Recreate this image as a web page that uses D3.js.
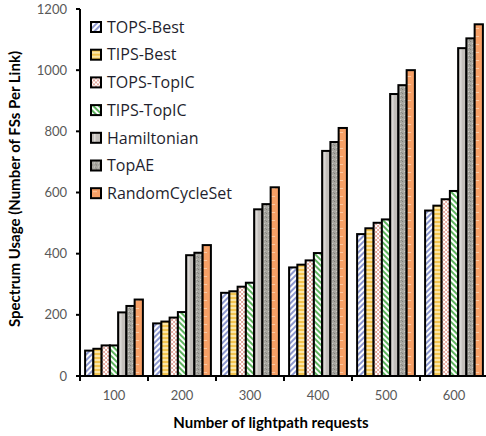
<!DOCTYPE html>
<html>
<head>
<meta charset="utf-8">
<script src="https://cdn.jsdelivr.net/npm/d3@7"></script>
<style>
  body { margin: 0; background: #fff; }
  text { font-family: Lato, "Open Sans", sans-serif; }
</style>
</head>
<body>
<div id="chart"></div>
<script>
const categories = ["100", "200", "300", "400", "500", "600"];
const seriesNames = ["TOPS-Best", "TIPS-Best", "TOPS-TopIC", "TIPS-TopIC", "Hamiltonian", "TopAE", "RandomCycleSet"];
const topsBest = [83, 172, 272, 355, 464, 541];
const tipsBest = [89, 178, 277, 364, 483, 557];
const topsTopIC = [100, 191, 292, 378, 501, 578];
const tipsTopIC = [100, 209, 305, 402, 512, 605];
const hamiltonian = [208, 395, 545, 736, 922, 1072];
const topAE = [229, 403, 562, 765, 951, 1104];
const randomCycleSet = [250, 428, 617, 811, 1000, 1150];
const yTicks = [0, 200, 400, 600, 800, 1000, 1200];

const allSeries = [topsBest, tipsBest, topsTopIC, tipsTopIC, hamiltonian, topAE, randomCycleSet];

let margin = { top: 9, left: 80 };

const svg = d3.select("#chart").append("svg")
    .attr("width", 486)
    .attr("height", 436);

// fill patterns
const defs = svg.append("defs");
function pat(id, bg, draw) {
  const p = defs.append("pattern").attr("id", id)
    .attr("patternUnits", "userSpaceOnUse").attr("width", 4).attr("height", 4);
  p.append("rect").attr("width", 4).attr("height", 4).attr("fill", bg);
  draw(p);
}
pat("p0", "#fff", p => {
  p.attr("patternTransform", "rotate(45)");
  p.append("rect").attr("width", 2).attr("height", 4).attr("fill", "#8d98cf");
});
pat("p1", "#fbe6a8", p => {
  p.append("rect").attr("width", 4).attr("height", 2).attr("fill", "#f3c44f");
});
pat("p2", "#fff", p => {
  p.append("rect").attr("width", 2).attr("height", 2).attr("fill", "#e4aaa0");
  p.append("rect").attr("x", 2).attr("y", 2).attr("width", 2).attr("height", 2).attr("fill", "#e4aaa0");
});
pat("p3", "#fff", p => {
  p.attr("patternTransform", "rotate(-45)");
  p.append("rect").attr("width", 2).attr("height", 4).attr("fill", "#5fb35f");
});
pat("p4", "#c3bfbb", p => {
  p.attr("width", 8).attr("height", 8);
  p.select("rect").attr("width", 8).attr("height", 8);
  p.append("rect").attr("x", 3).attr("width", 1.5).attr("height", 8).attr("fill", "#dedbd8");
});
pat("p5", "#a9a8a2", p => {
  p.append("rect").attr("x", 1).attr("y", 0).attr("width", 1).attr("height", 1).attr("fill", "#7c7b76");
  p.append("rect").attr("x", 3).attr("y", 2).attr("width", 1).attr("height", 1).attr("fill", "#d0cfca");
  p.append("rect").attr("x", 0).attr("y", 3).attr("width", 1).attr("height", 1).attr("fill", "#8a8984");
});
pat("p6", "#f7a066", p => {
  p.attr("width", 8).attr("height", 8);
  p.select("rect").attr("width", 8).attr("height", 8);
  p.append("rect").attr("x", 2).attr("y", 3).attr("width", 4).attr("height", 1).attr("fill", "#fcc9a2");
});
const fills = ["p0", "p1", "p2", "p3", "p4", "p5", "p6"];

const g = svg.append("g")
    .attr("transform", "translate(" + margin.left + "," + margin.top + ")");

const y = d3.scaleLinear().domain([0, 1200]).range([367, 0]);
const x0 = d3.scaleBand().domain(categories).range([0, 408])
    .paddingInner(0.15).paddingOuter(0.075);
const x1 = d3.scaleBand().domain(seriesNames).range([0, x0.bandwidth()]);

const step = x0.step();

// bars
categories.forEach((c, ci) => {
  const grp = g.append("g").attr("transform", "translate(" + x0(c) + ",0)");
  grp.selectAll("rect")
    .data(seriesNames.map((s, si) => ({ s, si, v: allSeries[si][ci] })))
    .enter().append("rect")
    .attr("x", d => x1(d.s))
    .attr("y", d => y(d.v))
    .attr("width", x1.bandwidth())
    .attr("height", d => y(0) - y(d.v))
    .attr("fill", d => "url(#" + fills[d.si] + ")")
    .attr("stroke", "#000")
    .attr("stroke-width", 2);
});

// y axis
g.append("line").attr("x1", 0).attr("x2", 0).attr("y1", y(1200)).attr("y2", y(0))
  .attr("stroke", "#000").attr("stroke-width", 2);
g.selectAll(".ytick").data(yTicks).enter().append("line")
  .attr("x1", -4).attr("x2", 0).attr("y1", d => y(d)).attr("y2", d => y(d))
  .attr("stroke", "#000").attr("stroke-width", 2);
g.selectAll(".ylab").data(yTicks).enter().append("text")
  .attr("x", -13).attr("y", d => y(d)).attr("dy", "0.35em")
  .attr("text-anchor", "end").attr("font-size", 13).attr("fill", "#595959")
  .text(d => d);

// x axis
g.append("line").attr("x1", 0).attr("x2", 408).attr("y1", y(0)).attr("y2", y(0))
  .attr("stroke", "#000").attr("stroke-width", 2);
g.selectAll(".xtick").data(d3.range(categories.length + 1)).enter().append("line")
  .attr("x1", d => d * step).attr("x2", d => d * step)
  .attr("y1", y(0)).attr("y2", y(0) + 5)
  .attr("stroke", "#000").attr("stroke-width", 2);
g.selectAll(".xlab").data(categories).enter().append("text")
  .attr("x", d => x0(d) + x0.bandwidth() / 2).attr("y", y(0) + 24)
  .attr("text-anchor", "middle").attr("font-size", 13).attr("fill", "#595959")
  .text(d => d);

// axis titles
svg.append("text").attr("x", 271).attr("y", 428)
  .attr("text-anchor", "middle").attr("font-size", 15).attr("font-weight", "bold")
  .text("Number of lightpath requests");
svg.append("text").attr("transform", "translate(20,189) rotate(-90)")
  .attr("text-anchor", "middle").attr("font-size", 15).attr("font-weight", "bold")
  .text("Spectrum Usage (Number of FSs Per Link)");

// legend
const legend = svg.append("g").attr("transform", "translate(91,22)");
const rows = legend.selectAll("g").data(seriesNames).enter().append("g")
  .attr("transform", (d, i) => "translate(0," + (i * 27.7) + ")");
rows.append("rect").attr("width", 10).attr("height", 10)
  .attr("fill", (d, i) => "url(#" + fills[i] + ")")
  .attr("stroke", "#000").attr("stroke-width", 2);
rows.append("text").attr("x", 16).attr("y", 5).attr("dy", "0.36em")
  .attr("font-size", 16).attr("fill", "#1f1f2e")
  .style("font-family", "'Open Sans', sans-serif")
  .text(d => d);
</script>
</body>
</html>
